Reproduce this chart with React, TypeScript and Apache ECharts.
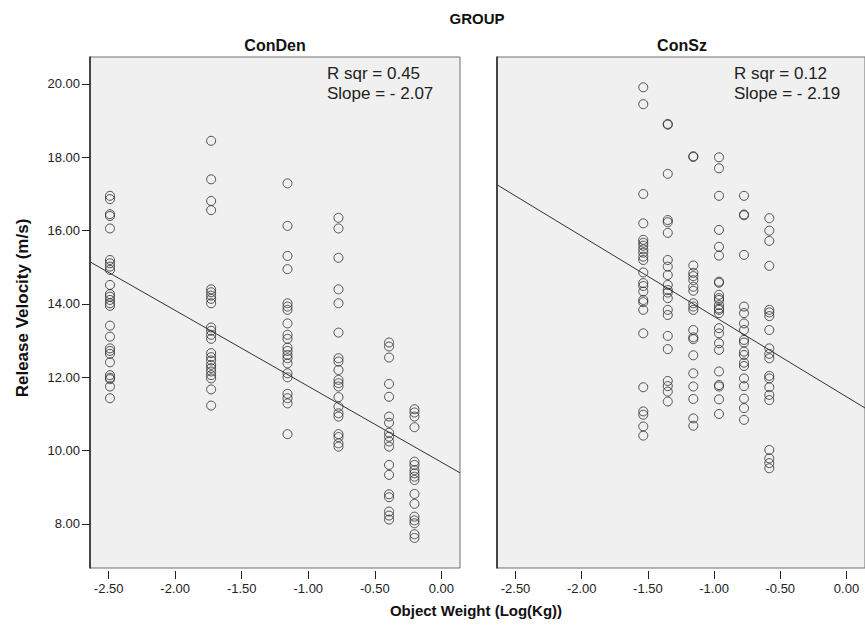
import React, { useEffect, useRef } from "react";
import * as echarts from "echarts";

const panelNames = ["ConDen", "ConSz"];
const xTicks = [-2.5, -2.0, -1.5, -1.0, -0.5, 0.0];
const yTicks = [8, 10, 12, 14, 16, 18, 20];

const conDenLevels = [-2.49, -1.73, -1.156, -0.773, -0.393, -0.202];
const conDenValues = [
  [16.95, 16.86, 16.45, 16.4, 16.06, 15.2, 15.11, 15.02, 14.93, 14.52, 14.27, 14.2, 14.11, 14.02, 13.95, 13.41, 13.11, 12.79, 12.72, 12.64, 12.41, 12.06, 11.99, 11.95, 11.75, 11.43],
  [18.45, 17.4, 16.81, 16.56, 14.4, 14.32, 14.23, 14.14, 14.02, 13.36, 13.27, 13.16, 13.05, 12.66, 12.55, 12.46, 12.34, 12.25, 12.16, 12.06, 11.97, 11.67, 11.23],
  [17.29, 16.13, 15.31, 14.95, 14.02, 13.93, 13.84, 13.47, 13.16, 13.05, 12.81, 12.72, 12.61, 12.52, 12.38, 12.11, 12.0, 11.55, 11.43, 11.29, 10.45],
  [16.35, 16.06, 15.26, 14.4, 14.02, 13.22, 12.52, 12.43, 12.2, 11.93, 11.84, 11.75, 11.46, 11.2, 11.02, 10.93, 10.45, 10.37, 10.2, 10.11],
  [12.95, 12.84, 12.54, 11.82, 11.47, 10.93, 10.76, 10.49, 10.38, 10.25, 10.11, 9.61, 9.34, 8.81, 8.73, 8.34, 8.23, 8.12],
  [11.13, 11.04, 10.93, 10.64, 9.7, 9.61, 9.47, 9.38, 9.29, 9.2, 8.82, 8.55, 8.2, 8.1, 8.02, 7.72, 7.62],
];

const conSzLevels = [-1.535, -1.35, -1.157, -0.963, -0.774, -0.583];
const conSzValues = [
  [19.91, 19.45, 17.0, 16.2, 15.75, 15.67, 15.59, 15.49, 15.4, 15.29, 15.2, 14.86, 14.57, 14.49, 14.34, 14.11, 14.05, 13.84, 13.2, 11.73, 11.07, 10.98, 10.66, 10.41],
  [18.91, 18.89, 17.55, 16.29, 16.23, 15.94, 15.2, 15.02, 14.79, 14.52, 14.38, 14.31, 14.16, 13.84, 13.7, 13.13, 12.77, 11.9, 11.76, 11.61, 11.34],
  [18.03, 18.01, 15.05, 14.85, 14.76, 14.65, 14.47, 14.36, 14.02, 13.93, 13.84, 13.29, 13.09, 13.04, 12.6, 12.11, 11.75, 11.41, 10.88, 10.68],
  [18.0, 17.7, 16.95, 16.02, 15.56, 15.32, 14.61, 14.58, 14.25, 14.16, 14.11, 13.97, 13.88, 13.84, 13.75, 13.34, 13.2, 12.93, 12.75, 12.16, 11.79, 11.75, 11.4, 11.0],
  [16.95, 16.44, 16.42, 15.34, 13.93, 13.75, 13.47, 13.29, 13.02, 12.95, 12.7, 12.61, 12.4, 12.31, 11.97, 11.76, 11.42, 11.16, 10.84],
  [16.34, 16.0, 15.72, 15.04, 13.84, 13.77, 13.67, 13.29, 12.79, 12.64, 12.52, 12.04, 11.97, 11.73, 11.52, 11.38, 10.02, 9.79, 9.66, 9.52],
];

const rSquared = [0.45, 0.12];
const slopes = [-2.07, -2.19];
const intercepts = [9.685, 11.47];

const X_MIN = -2.64;
const X_MAX = 0.14;
const Y_MIN = 6.8;
const Y_MAX = 20.736;

const FONT = '"Liberation Sans", Arial, sans-serif';

function toPoints(levels: number[], values: number[][]) {
  const pts: number[][] = [];
  levels.forEach((x, i) => values[i].forEach((v) => pts.push([x, v])));
  return pts;
}

export default function App() {
  const ref = useRef<HTMLDivElement>(null);

  useEffect(() => {
    if (!ref.current) return;
    const chart = echarts.init(ref.current, undefined, { renderer: "svg" });

    const gridLefts = [90, 497];
    const grids = gridLefts.map((left) => ({
      left,
      top: 57,
      width: 370,
      height: 511,
      show: true,
      backgroundColor: "#f0f0f0",
      borderColor: "#6e6e6e",
      borderWidth: 1,
    }));

    const xAxes = gridLefts.map((_, i) => ({
      gridIndex: i,
      type: "value",
      min: X_MIN,
      max: X_MAX,
      offset: 3,
      axisLine: { show: false, onZero: false },
      axisTick: {
        show: true,
        customValues: xTicks,
        length: 8,
        lineStyle: { color: "#222", width: 1 },
      },
      axisLabel: {
        customValues: xTicks,
        formatter: (v: number) => v.toFixed(2),
        color: "#222",
        fontSize: 13,
        fontFamily: FONT,
        margin: 11,
      },
      splitLine: { show: false },
    }));

    const yAxes = gridLefts.map((_, i) => ({
      gridIndex: i,
      type: "value",
      min: Y_MIN,
      max: Y_MAX,
      axisLine: { show: true, onZero: false, lineStyle: { color: "#222", width: 1.5 } },
      axisTick: {
        show: i === 0,
        customValues: yTicks,
        length: 8,
        lineStyle: { color: "#222", width: 1 },
      },
      axisLabel: {
        show: i === 0,
        customValues: yTicks,
        formatter: (v: number) => v.toFixed(2),
        color: "#222",
        fontSize: 13,
        fontFamily: FONT,
        margin: 10,
      },
      splitLine: { show: false },
    }));

    const datasets = [
      toPoints(conDenLevels, conDenValues),
      toPoints(conSzLevels, conSzValues),
    ];

    const series: any[] = [];
    datasets.forEach((pts, i) => {
      series.push({
        type: "scatter",
        xAxisIndex: i,
        yAxisIndex: i,
        data: pts,
        symbol: "circle",
        symbolSize: 9,
        itemStyle: { color: "rgba(0,0,0,0)", borderColor: "#2a2a2a", borderWidth: 1 },
        silent: true,
      });
      series.push({
        type: "line",
        xAxisIndex: i,
        yAxisIndex: i,
        data: [
          [X_MIN, intercepts[i] + slopes[i] * X_MIN],
          [X_MAX, intercepts[i] + slopes[i] * X_MAX],
        ],
        symbol: "none",
        lineStyle: { color: "#333", width: 1 },
        silent: true,
      });
    });

    const graphics: any[] = [
      {
        type: "text",
        x: 477,
        y: 18,
        style: { text: "GROUP", font: `bold 15px ${FONT}`, fill: "#111", textAlign: "center", textVerticalAlign: "middle" },
      },
      {
        type: "text",
        x: 476,
        y: 610,
        style: { text: "Object Weight (Log(Kg))", font: `bold 15px ${FONT}`, fill: "#111", textAlign: "center", textVerticalAlign: "middle" },
      },
      {
        type: "text",
        x: 22,
        y: 308,
        rotation: Math.PI / 2,
        style: { text: "Release Velocity (m/s)", font: `bold 17px ${FONT}`, fill: "#111", textAlign: "center", textVerticalAlign: "middle" },
      },
    ];
    gridLefts.forEach((left, i) => {
      graphics.push({
        type: "text",
        x: left + 185,
        y: 45,
        style: { text: panelNames[i], font: `bold 16px ${FONT}`, fill: "#111", textAlign: "center", textVerticalAlign: "middle" },
      });
      graphics.push({
        type: "text",
        x: left + 237,
        y: 73,
        style: { text: `R sqr = ${rSquared[i].toFixed(2)}`, font: `17px ${FONT}`, fill: "#222", textAlign: "left", textVerticalAlign: "middle" },
      });
      graphics.push({
        type: "text",
        x: left + 237,
        y: 93,
        style: { text: `Slope = - ${Math.abs(slopes[i]).toFixed(2)}`, font: `17px ${FONT}`, fill: "#222", textAlign: "left", textVerticalAlign: "middle" },
      });
    });

    chart.setOption({
      animation: false,
      backgroundColor: "#ffffff",
      grid: grids,
      xAxis: xAxes,
      yAxis: yAxes,
      series,
      graphic: graphics,
    });

    return () => chart.dispose();
  }, []);

  return (
    <div
      ref={ref}
      style={{ position: "fixed", left: 0, top: 0, width: 865, height: 626 }}
    />
  );
}
